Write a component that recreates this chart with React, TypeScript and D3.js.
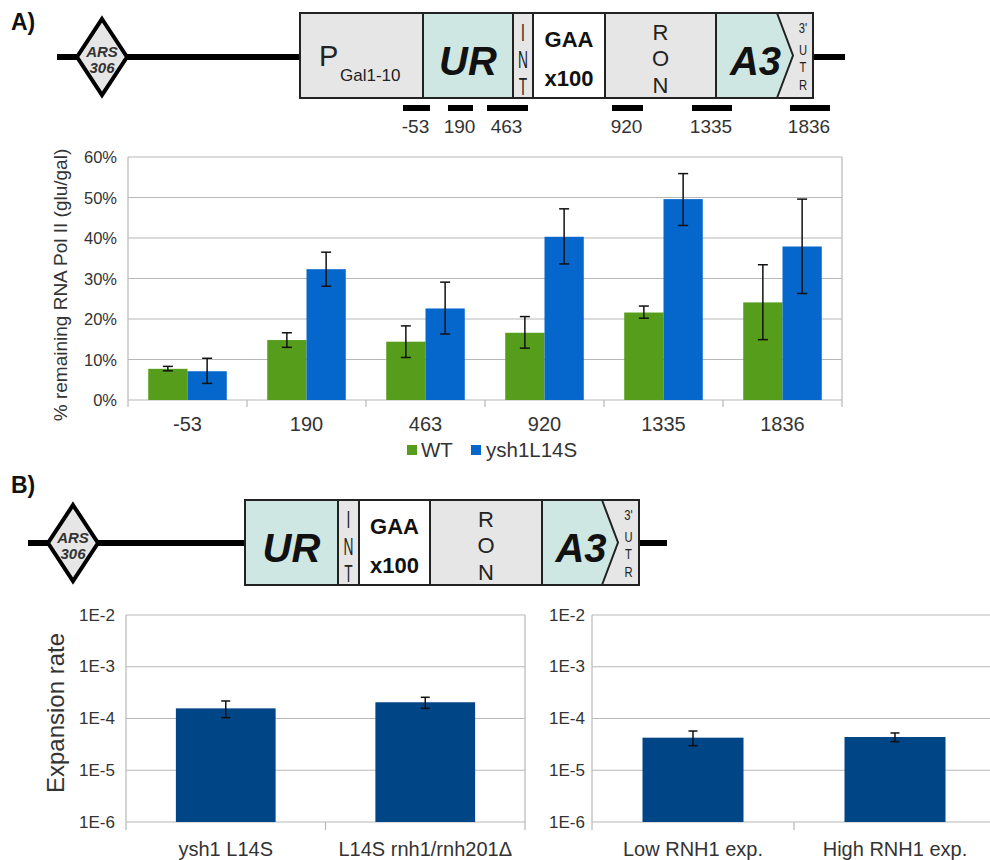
import React from 'react';
import * as d3 from 'd3';

// ---------- Panel A data ----------
const positions = ['-53', '190', '463', '920', '1335', '1836'];
const seriesNames = ['WT', 'ysh1L14S'];
const wtValues = [7.7, 14.8, 14.4, 16.6, 21.6, 24.1];
const wtLow = [7.2, 13.0, 10.5, 12.8, 20.2, 14.9];
const wtHigh = [8.3, 16.6, 18.3, 20.6, 23.2, 33.4];
const mutValues = [7.1, 32.3, 22.6, 40.3, 49.6, 37.9];
const mutLow = [4.1, 28.1, 16.3, 33.6, 43.1, 26.3];
const mutHigh = [10.3, 36.5, 29.1, 47.2, 55.9, 49.6];
const pctTicks = [0, 10, 20, 30, 40, 50, 60];

// ---------- Panel B data ----------
const strainsLeft = ['ysh1 L14S', 'L14S rnh1/rnh201Δ'];
const rateLeft = [1.57e-4, 2.06e-4];
const rateLeftLow = [1.04e-4, 1.57e-4];
const rateLeftHigh = [2.18e-4, 2.57e-4];
const strainsRight = ['Low RNH1 exp.', 'High RNH1 exp.'];
const rateRight = [4.26e-5, 4.39e-5];
const rateRightLow = [2.98e-5, 3.56e-5];
const rateRightHigh = [5.73e-5, 5.25e-5];
const logTicks = [1e-6, 1e-5, 1e-4, 1e-3, 1e-2];
const logTickLabels = ['1E-6', '1E-5', '1E-4', '1E-3', '1E-2'];

const FONT = 'Liberation Sans, Arial, sans-serif';
const GREEN = '#579d1c';
const BLUE = '#0566cc';
const NAVY = '#004586';
const GRID = '#b8b8b8';
const TEAL = '#cfe7e2';
const LGRAY = '#e6e6e6';
const TXT = '#333';

type DiagramProps = {
  lineY: number; lineL: number; lineR: number; dcx: number;
  top: number; bottom: number; left: number;
  pEnd?: number; urEnd: number; intEnd: number; gaaEnd: number; ronEnd: number;
  arrowX: number; tip: number; right: number;
};

function Diagram(p: DiagramProps) {
  const cy = (p.top + p.bottom) / 2;
  const h = p.bottom - p.top;
  const urStart = p.pEnd ?? p.left;
  const letters = (arr: string[], offs: number[], x: number, size: number, sx: number) =>
    arr.map((ch, i) => (
      <text key={ch + i} transform={`translate(${x},${p.top + offs[i]}) scale(${sx},1)`}
        textAnchor="middle" dominantBaseline="central" fontSize={size} fill="#222">{ch}</text>
    ));
  return (
    <g fontFamily={FONT}>
      <line x1={p.lineL} x2={p.left} y1={p.lineY} y2={p.lineY} stroke="#000" strokeWidth={6} />
      <line x1={p.right} x2={p.lineR} y1={p.lineY} y2={p.lineY} stroke="#000" strokeWidth={6} />
      <polygon points={`${p.dcx},${p.lineY - 38} ${p.dcx + 25},${p.lineY} ${p.dcx},${p.lineY + 38} ${p.dcx - 25},${p.lineY}`}
        fill={LGRAY} stroke="#000" strokeWidth={4} strokeLinejoin="miter" />
      <text x={p.dcx} y={p.lineY - 6} textAnchor="middle" dominantBaseline="central" fontSize={15}
        fontWeight="bold" fontStyle="italic" fill={TXT}>ARS</text>
      <text x={p.dcx} y={p.lineY + 10} textAnchor="middle" dominantBaseline="central" fontSize={15}
        fontWeight="bold" fontStyle="italic" fill={TXT}>306</text>
      {p.pEnd !== undefined && (
        <rect x={p.left} y={p.top} width={p.pEnd - p.left} height={h} fill={LGRAY} />
      )}
      <rect x={urStart} y={p.top} width={p.urEnd - urStart} height={h} fill={TEAL} />
      <rect x={p.urEnd} y={p.top} width={p.intEnd - p.urEnd} height={h} fill={LGRAY} />
      <rect x={p.intEnd} y={p.top} width={p.gaaEnd - p.intEnd} height={h} fill="#fff" />
      <rect x={p.gaaEnd} y={p.top} width={p.ronEnd - p.gaaEnd} height={h} fill={LGRAY} />
      <rect x={p.ronEnd} y={p.top} width={p.right - p.ronEnd} height={h} fill={LGRAY} />
      <polygon points={`${p.ronEnd},${p.top} ${p.arrowX},${p.top} ${p.tip},${cy} ${p.arrowX},${p.bottom} ${p.ronEnd},${p.bottom}`}
        fill={TEAL} />
      {[p.pEnd, p.urEnd, p.intEnd, p.gaaEnd, p.ronEnd].filter((v) => v !== undefined).map((v, i) => (
        <line key={i} x1={v} x2={v} y1={p.top} y2={p.bottom} stroke="#222" strokeWidth={2} />
      ))}
      <polyline points={`${p.arrowX},${p.top} ${p.tip},${cy} ${p.arrowX},${p.bottom}`} fill="none" stroke="#222" strokeWidth={2} />
      <rect x={p.left} y={p.top} width={p.right - p.left} height={h} fill="none" stroke="#222" strokeWidth={2} />
      {p.pEnd !== undefined && (
        <g fill="#222">
          <text x={p.left + 19} y={p.top + 53} fontSize={29}>P</text>
          <text x={p.left + 40} y={p.top + 68} fontSize={17}>Gal1-10</text>
        </g>
      )}
      <text x={(urStart + p.urEnd) / 2} y={p.top + 62} textAnchor="middle" fontSize={40}
        fontWeight="bold" fontStyle="italic" fill="#111">UR</text>
      {letters(['I', 'N', 'T'], [20, 47, 74], (p.urEnd + p.intEnd) / 2, 23, 0.6)}
      <text x={(p.intEnd + p.gaaEnd) / 2} y={p.top + 26} textAnchor="middle" dominantBaseline="central"
        fontSize={22} fontWeight="bold" fill="#111">GAA</text>
      <text x={(p.intEnd + p.gaaEnd) / 2} y={p.top + 65} textAnchor="middle" dominantBaseline="central"
        fontSize={22} fontWeight="bold" fill="#111">x100</text>
      {letters(['R', 'O', 'N'], [19, 45, 72], (p.gaaEnd + p.ronEnd) / 2, 22, 1)}
      <text x={(p.ronEnd + p.tip) / 2 + 1} y={p.top + 62} textAnchor="middle" fontSize={40}
        fontWeight="bold" fontStyle="italic" fill="#111">A3</text>
      {letters(["3'", 'U', 'T', 'R'], [16, 38, 55, 73], (p.tip + p.right) / 2, 14, 0.8)}
    </g>
  );
}

function ChartA() {
  const x = d3.scaleBand<string>().domain(positions).range([128, 842]);
  const y = d3.scaleLinear().domain([0, 60]).range([400, 157]);
  const bw = x.bandwidth() * 0.33;
  const cap = 5;
  const series = [
    { vals: wtValues, lo: wtLow, hi: wtHigh, color: GREEN, off: -bw },
    { vals: mutValues, lo: mutLow, hi: mutHigh, color: BLUE, off: 0 },
  ];
  return (
    <g fontFamily={FONT}>
      {pctTicks.map((t) => (
        <g key={t}>
          <line x1={128} x2={842} y1={y(t)} y2={y(t)} stroke={GRID} strokeWidth={1.2} />
          <text x={117} y={y(t)} textAnchor="end" dominantBaseline="central" fontSize={16.5} fill={TXT}>{t}%</text>
        </g>
      ))}
      <line x1={128} x2={128} y1={y(60)} y2={407} stroke={GRID} strokeWidth={1.2} />
      <line x1={842} x2={842} y1={y(60)} y2={407} stroke={GRID} strokeWidth={1.2} />
      {positions.slice(1).map((c) => (
        <line key={c} x1={x(c)!} x2={x(c)!} y1={400} y2={407} stroke={GRID} strokeWidth={1.2} />
      ))}
      {series.map((s, si) => positions.map((c, i) => {
        const cx = x(c)! + x.bandwidth() / 2 + s.off;
        return (
          <g key={si + c}>
            <rect x={cx} y={y(s.vals[i])} width={bw} height={y(0) - y(s.vals[i])} fill={s.color} />
            <line x1={cx + bw / 2} x2={cx + bw / 2} y1={y(s.hi[i])} y2={y(s.lo[i])} stroke="#111" strokeWidth={1.5} />
            <line x1={cx + bw / 2 - cap} x2={cx + bw / 2 + cap} y1={y(s.hi[i])} y2={y(s.hi[i])} stroke="#111" strokeWidth={1.5} />
            <line x1={cx + bw / 2 - cap} x2={cx + bw / 2 + cap} y1={y(s.lo[i])} y2={y(s.lo[i])} stroke="#111" strokeWidth={1.5} />
          </g>
        );
      }))}
      {positions.map((c) => (
        <text key={c} x={x(c)! + x.bandwidth() / 2} y={431} textAnchor="middle" fontSize={20} fill={TXT}>{c}</text>
      ))}
      <text transform="translate(60,285) rotate(-90)" textAnchor="middle" dominantBaseline="central"
        fontSize={19} fill={TXT}>% remaining RNA Pol II (glu/gal)</text>
      <rect x={407} y={445} width={10} height={10} fill={GREEN} />
      <text x={421} y={457} fontSize={20.5} fill={TXT}>{seriesNames[0]}</text>
      <rect x={471} y={445} width={10} height={10} fill={BLUE} />
      <text x={486} y={457} fontSize={20.5} fill={TXT}>{seriesNames[1]}</text>
    </g>
  );
}

function LogChart({ x0, x1, labelX, cats, vals, lo, hi }: {
  x0: number; x1: number; labelX: number; cats: string[]; vals: number[]; lo: number[]; hi: number[];
}) {
  const x = d3.scaleBand<string>().domain(cats).range([x0, x1]);
  const y = d3.scaleLog().domain([1e-6, 1e-2]).range([822, 615]);
  const bw = x.bandwidth() * 0.5;
  const cap = 4.5;
  return (
    <g fontFamily={FONT}>
      {logTicks.map((t, i) => (
        <g key={t}>
          <line x1={x0} x2={x1} y1={y(t)} y2={y(t)} stroke={GRID} strokeWidth={1.2} />
          <text x={labelX} y={y(t)} textAnchor="end" dominantBaseline="central" fontSize={17} fill={TXT}>{logTickLabels[i]}</text>
        </g>
      ))}
      <line x1={x0} x2={x0} y1={615} y2={830} stroke={GRID} strokeWidth={1.2} />
      <line x1={x1} x2={x1} y1={615} y2={830} stroke={GRID} strokeWidth={1.2} />
      {cats.slice(1).map((c) => (
        <line key={c} x1={x(c)!} x2={x(c)!} y1={822} y2={830} stroke={GRID} strokeWidth={1.2} />
      ))}
      {cats.map((c, i) => {
        const cx = x(c)! + x.bandwidth() / 2;
        return (
          <g key={c}>
            <rect x={cx - bw / 2} y={y(vals[i])} width={bw} height={822 - y(vals[i])} fill={NAVY} />
            <line x1={cx} x2={cx} y1={y(hi[i])} y2={y(lo[i])} stroke="#111" strokeWidth={1.5} />
            <line x1={cx - cap} x2={cx + cap} y1={y(hi[i])} y2={y(hi[i])} stroke="#111" strokeWidth={1.5} />
            <line x1={cx - cap} x2={cx + cap} y1={y(lo[i])} y2={y(lo[i])} stroke="#111" strokeWidth={1.5} />
            <text x={cx} y={856} textAnchor="middle" fontSize={20} fill={TXT}>{c}</text>
          </g>
        );
      })}
    </g>
  );
}

const probeBars: [number, number][] = [[403, 430], [448, 473], [487, 528], [612, 643], [692, 732], [790, 830]];

export default function App() {
  return (
    <svg width={990} height={860} style={{ position: 'absolute', left: 0, top: 0, background: '#fff' }}
      fontFamily={FONT}>
      <rect x={0} y={0} width={990} height={860} fill="#fff" />
      <text x={11} y={30} fontSize={23} fontWeight="bold" fill="#111">A)</text>
      <Diagram lineY={57} lineL={57} lineR={845} dcx={102} top={13} bottom={98} left={300}
        pEnd={423} urEnd={513} intEnd={533} gaaEnd={605} ronEnd={716} arrowX={777} tip={793} right={813} />
      {probeBars.map(([a, b], i) => (
        <g key={i}>
          <rect x={a} y={105} width={b - a} height={6} fill="#000" />
          <text x={(a + b) / 2 - 1} y={133} textAnchor="middle" fontSize={19} fill={TXT}>{positions[i]}</text>
        </g>
      ))}
      <ChartA />
      <text x={11} y={493} fontSize={23} fontWeight="bold" fill="#111">B)</text>
      <Diagram lineY={543} lineL={28} lineR={667} dcx={73} top={500} bottom={585} left={245}
        urEnd={338} intEnd={359} gaaEnd={430} ronEnd={542} arrowX={602} tip={618} right={639} />
      <LogChart x0={126} x1={525} labelX={115} cats={strainsLeft} vals={rateLeft} lo={rateLeftLow} hi={rateLeftHigh} />
      <LogChart x0={592} x1={996} labelX={585} cats={strainsRight} vals={rateRight} lo={rateRightLow} hi={rateRightHigh} />
      <text transform="translate(55,713) rotate(-90)" textAnchor="middle" dominantBaseline="central"
        fontSize={24} fill={TXT}>Expansion rate</text>
    </svg>
  );
}
